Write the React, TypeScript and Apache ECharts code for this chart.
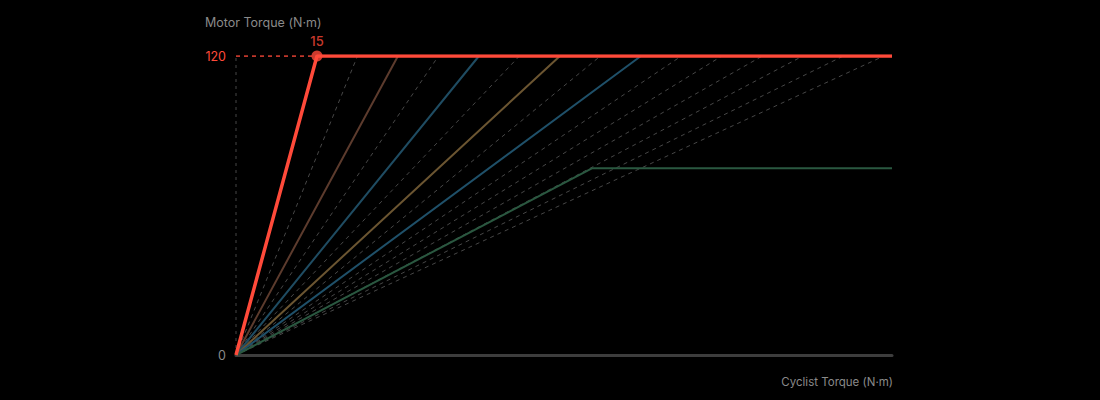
import React, { useEffect, useRef } from "react";
import * as echarts from "echarts";

// ---- data ----
const X_MAX = 121.5;
const MAX_TORQUE = 120;
const yTickLabels = [0, 120];
const boostX = 15; // cyclist torque at which max motor torque is reached (boost)
const assistX = [30, 45, 60, 75]; // solid assist levels reaching 120 at these x
const dashedX = [22.5, 37.5, 52.5, 67.5, 82.5, 90, 97.5, 105, 112.5, 120];
const ecoBreakX = 66; // eco line reaches its cap here
const ecoCap = 75; // eco capped motor torque

// ---- styles ----
const RED = "#ff4a3a";
const assistColors = ["#5c3b2d", "#1f4c62", "#6b5531", "#1f5069"];
const ECO_COLOR = "#2a5840";
const DASH_COLOR = "#474747";

export default function App() {
  const ref = useRef<HTMLDivElement>(null);
  useEffect(() => {
    if (!ref.current) return;
    const chart = echarts.init(ref.current, null, { renderer: "svg" });

    const series: any[] = [];
    // vertical guide at x=0
    series.push({
      type: "line",
      data: [
        [0, 0],
        [0, MAX_TORQUE],
      ],
      symbol: "none",
      lineStyle: { color: DASH_COLOR, width: 1, type: [3, 4] },
      silent: true,
      z: 1,
    });
    dashedX.forEach((x) => {
      series.push({
        type: "line",
        data: [
          [0, 0],
          [x, MAX_TORQUE],
        ],
        symbol: "none",
        lineStyle: { color: DASH_COLOR, width: 1, type: [4, 4] },
        silent: true,
        z: 2,
      });
    });
    assistX.forEach((x, i) => {
      series.push({
        type: "line",
        data: [
          [0, 0],
          [x, MAX_TORQUE],
          [X_MAX, MAX_TORQUE],
        ],
        symbol: "none",
        lineStyle: { color: assistColors[i], width: 2 },
        silent: true,
        z: 3,
      });
    });
    series.push({
      type: "line",
      data: [
        [0, 0],
        [ecoBreakX, ecoCap],
        [X_MAX, ecoCap],
      ],
      symbol: "none",
      lineStyle: { color: ECO_COLOR, width: 2 },
      silent: true,
      z: 3,
    });
    // red dashed guide to y axis
    series.push({
      type: "line",
      data: [
        [0, MAX_TORQUE],
        [boostX, MAX_TORQUE],
      ],
      symbol: "none",
      lineStyle: { color: RED, width: 1.5, type: [4, 4] },
      silent: true,
      z: 4,
    });
    series.push({
      type: "line",
      data: [
        [0, 0],
        [boostX, MAX_TORQUE],
        [X_MAX, MAX_TORQUE],
      ],
      symbol: "none",
      lineStyle: { color: RED, width: 3.5 },
      silent: true,
      z: 5,
    });
    series.push({
      type: "scatter",
      data: [[boostX, MAX_TORQUE]],
      symbol: "circle",
      symbolSize: 11,
      itemStyle: { color: RED },
      label: {
        show: true,
        position: "top",
        distance: 3,
        formatter: String(boostX),
        color: RED,
        fontSize: 13,
        fontWeight: 500,
        fontFamily: "Inter, sans-serif",
      },
      silent: true,
      z: 6,
    });

    chart.setOption({
      animation: false,
      backgroundColor: "#000000",
      grid: { left: 236, right: 208, top: 56, bottom: 45 },
      xAxis: {
        type: "value",
        min: 0,
        max: X_MAX,
        axisLine: { show: true, lineStyle: { color: "#3d3d3d", width: 3 } },
        axisTick: { show: false },
        axisLabel: { show: false },
        splitLine: { show: false },
      },
      yAxis: {
        type: "value",
        min: 0,
        max: MAX_TORQUE,
        interval: MAX_TORQUE,
        axisLine: { show: false },
        axisTick: { show: false },
        splitLine: { show: false },
        axisLabel: {
          margin: 10,
          fontSize: 12.5,
          fontFamily: "Inter, sans-serif",
          formatter: (v: number) => (yTickLabels.includes(v) ? String(v) : ""),
          color: (v: any) => (Number(v) === MAX_TORQUE ? RED : "#8a8a8a"),
        },
      },
      graphic: [
        {
          type: "text",
          left: 205,
          top: 16,
          style: {
            text: "Motor Torque (N·m)",
            fill: "#8a8a8a",
            fontSize: 12.5,
            fontFamily: "Inter, sans-serif",
          },
        },
        {
          type: "text",
          right: 207,
          top: 376,
          style: {
            text: "Cyclist Torque (N·m)",
            fill: "#8a8a8a",
            fontSize: 11.5,
            fontFamily: "Inter, sans-serif",
          },
        },
      ],
      series,
    });
    return () => chart.dispose();
  }, []);
  return (
    <div
      ref={ref}
      style={{ position: "fixed", left: 0, top: 0, width: 1100, height: 400, background: "#000" }}
    />
  );
}
